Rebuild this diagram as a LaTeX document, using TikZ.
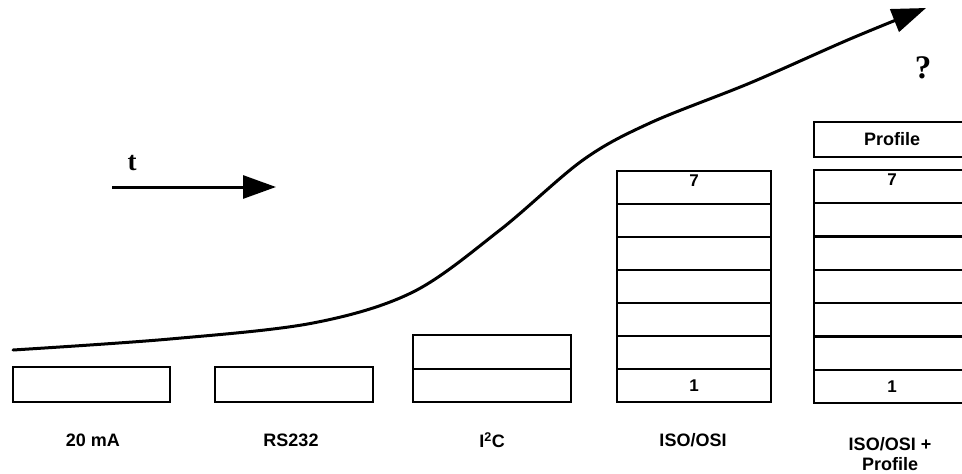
\documentclass[tikz,border=0pt]{standalone}
\usepackage{fontspec}
\setmainfont{Liberation Serif}
\setsansfont{Liberation Sans}
\usetikzlibrary{arrows.meta}
\begin{document}
\begin{tikzpicture}[x=1pt,y=-1pt,
  box/.style={draw,line width=2.2pt,inner sep=0pt,outer sep=0pt,minimum width=#1},
  lbl/.style={font=\sffamily\bfseries\fontsize{18}{21}\selectfont},
  num/.style={font=\sffamily\bfseries\fontsize{17}{19}\selectfont},
  curve/.style={line width=3pt,line cap=round,-{Triangle[length=34pt,width=24pt]}}]
\useasboundingbox (0,0) rectangle (962,474);
\clip (0,0) rectangle (962,474);
% simple boxes
\node[box=157pt,minimum height=35pt] (ma) at (91.5,384.5) {};
\node[box=158pt,minimum height=35pt] (rs) at (294,384.5) {};
\node[box=158pt,minimum height=33.5pt] (ic1) at (492,352) {};
\node[box=158pt,minimum height=33.5pt] (ic2) at (492,385.5) {};
% ISO/OSI stack
\foreach \i in {1,...,7}{
  \node[box=154pt,minimum height=33pt] (iso\i) at (694,{402-33*\i+16.5}) {};
}
\node[num,anchor=north] at (iso7.north) {7};
\node[num] at (iso1.center) {1};
% ISO/OSI + profile stack
\foreach \i in {1,...,7}{
  \node[box=156pt,minimum height=33.3pt] (pro\i) at (892,{403-33.3*\i+16.65}) {};
}
\node[num,anchor=north] at (pro7.north) {7};
\node[num] at (pro1.center) {1};
\node[box=156pt,minimum height=35pt,lbl] (prof) at (892,139.5) {Profile};
% labels
\node[lbl] (lma) at (93,440) {20 mA};
\node[lbl] (lrs) at (291,440) {RS232};
\node[lbl] (lic) at (492,440) {I\textsuperscript{2}C};
\node[lbl] (liso) at (693,440) {ISO/OSI};
\node[lbl,align=center] (lpro) at (890,454) {ISO/OSI +\\[-1pt]Profile};
% time arrow
\coordinate (ts) at (112,187);
\coordinate (te) at (276,187);
\draw[line width=3pt,-{Triangle[length=33pt,width=23pt]}] (ts) -- (te);
\node[font=\bfseries\fontsize{27}{30}\selectfont] (t) at (132,163) {t};
\node[font=\bfseries\fontsize{33}{36}\selectfont] (q) at (923,68) {?};
% growth curve
\draw[curve] plot[smooth,tension=0.55] coordinates {(13,350) (170,339) (313,323) (413,292) (500,230) (583,160) (650,123) (750,83) (850,39) (926,8)};
\end{tikzpicture}
\end{document}
